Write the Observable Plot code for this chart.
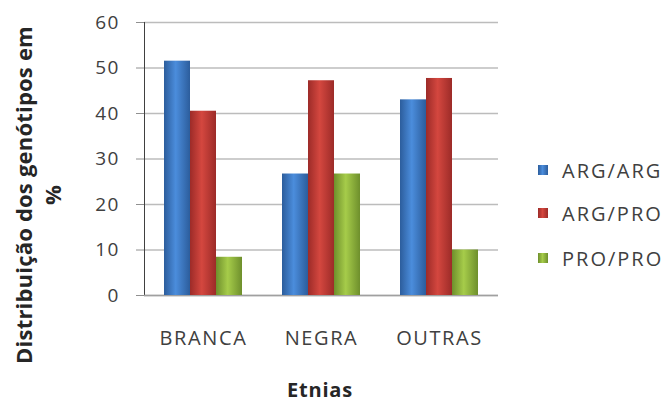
<!DOCTYPE html>
<html>
<head>
<meta charset="utf-8">
<script src="https://cdn.jsdelivr.net/npm/d3@7"></script>
<script src="https://cdn.jsdelivr.net/npm/@observablehq/plot@0.6"></script>
<style>
  html, body { margin: 0; padding: 0; background: #fff; }
  #wrap { position: relative; width: 667px; height: 403px; overflow: hidden; font-family: "Open Sans", sans-serif; color: #404040; }
  #wrap svg { position: absolute; left: 0; top: 0; }
  g[aria-label^="fx-axis"] text { font-size: 20px; letter-spacing: 1.6px; fill: #404040; }
  g[aria-label^="y-axis"] text { font-size: 19px; letter-spacing: 1.2px; fill: #404040; }
  .ylab { position: absolute; left: -161px; top: 165px; width: 400px; height: 60px; transform: rotate(-90deg); text-align: center; font-weight: bold; font-size: 22px; letter-spacing: 0.2px; line-height: 29px; color: #262626; white-space: nowrap; }
  .xlab { position: absolute; left: 220px; top: 376px; width: 200px; text-align: center; font-weight: bold; font-size: 20px; letter-spacing: 0.8px; color: #262626; }
  .legend { position: absolute; left: 538px; top: 0; }
  .legend .row { position: absolute; left: 0; height: 24px; width: 140px; display: flex; align-items: center; white-space: nowrap; font-size: 20px; letter-spacing: 2px; color: #404040; }
  .legend .sw { width: 10px; height: 10px; margin-right: 14px; flex: none; }
</style>
</head>
<body>
<div id="wrap"></div>
<script>
const categories = ["BRANCA", "NEGRA", "OUTRAS"];
const genotypes = ["ARG/ARG", "ARG/PRO", "PRO/PRO"];
const argArg = [51.5, 26.7, 43.0];
const argPro = [40.5, 47.2, 47.7];
const proPro = [8.4, 26.7, 10.0];
const yTicks = [0, 10, 20, 30, 40, 50, 60];
const seriesColors = [
  ["#2c5d9c", "#4b8ddc", "#2c5d9c"],
  ["#9c2b28", "#d4473f", "#9c2b28"],
  ["#6e8f2c", "#a6cc4a", "#6e8f2c"]
];

const seriesValues = [argArg, argPro, proPro];
const data = categories.flatMap((c, i) =>
  genotypes.map((g, j) => ({cat: c, gen: g, val: seriesValues[j][i]}))
);

const gradIds = genotypes.map((g, i) => "grad" + i);

const plot = Plot.plot({
  width: 667,
  height: 403,
  marginLeft: 143,
  marginRight: 169,
  marginTop: 22,
  marginBottom: 108,
  style: {fontFamily: "Open Sans, sans-serif", fontSize: "18px", color: "#404040", background: "transparent", overflow: "visible"},
  facet: {data: data, x: "cat"},
  fx: {domain: categories, padding: 0, axis: "bottom", label: null, tickSize: 0, tickPadding: 35},
  x: {domain: genotypes, axis: null, paddingInner: 0, paddingOuter: 0.73},
  y: {domain: [0, 60], ticks: yTicks, grid: true, line: true, tickSize: 8, tickPadding: 17, label: null},
  color: {type: "ordinal", domain: genotypes, range: gradIds.map(id => `url(#${id})`)},
  marks: [
    Plot.ruleY([0], {stroke: "#a0a0a0", strokeWidth: 1.5}),
    Plot.barY(data, {x: "gen", y: "val", fill: "gen"})
  ]
});

// gradient definitions for the bar fills
const svg = d3.select(plot.tagName.toLowerCase() === "svg" ? plot : plot.querySelector("svg"));
const defs = svg.insert("defs", ":first-child");
gradIds.forEach((id, i) => {
  const lg = defs.append("linearGradient").attr("id", id).attr("x1", "0").attr("x2", "1").attr("y1", "0").attr("y2", "0");
  lg.append("stop").attr("offset", "0%").attr("stop-color", seriesColors[i][0]);
  lg.append("stop").attr("offset", "45%").attr("stop-color", seriesColors[i][1]);
  lg.append("stop").attr("offset", "100%").attr("stop-color", seriesColors[i][2]);
});
svg.selectAll('g[aria-label^="y-axis"] line, g[aria-label^="y-axis"] path').attr("stroke", "#909090");
svg.selectAll('g[aria-label^="y-grid"] line, g[aria-label^="y-axis"] line[stroke-opacity]').attr("stroke", "#bcbcbc").attr("stroke-opacity", 1).attr("stroke-width", 1.5);

const wrap = document.getElementById("wrap");
wrap.appendChild(plot);

const ylab = document.createElement("div");
ylab.className = "ylab";
ylab.innerHTML = "Distribuição dos genótipos em<br>%";
wrap.appendChild(ylab);

const xlab = document.createElement("div");
xlab.className = "xlab";
xlab.textContent = "Etnias";
wrap.appendChild(xlab);

const legend = document.createElement("div");
legend.className = "legend";
const rowTops = [158, 201, 246];
genotypes.forEach((g, i) => {
  const row = document.createElement("div");
  row.className = "row";
  row.style.top = rowTops[i] + "px";
  const sw = document.createElement("span");
  sw.className = "sw";
  sw.style.background = `linear-gradient(90deg, ${seriesColors[i][0]}, ${seriesColors[i][1]} 45%, ${seriesColors[i][2]})`;
  const tx = document.createElement("span");
  tx.textContent = g;
  row.appendChild(sw);
  row.appendChild(tx);
  legend.appendChild(row);
});
wrap.appendChild(legend);
</script>
</body>
</html>
